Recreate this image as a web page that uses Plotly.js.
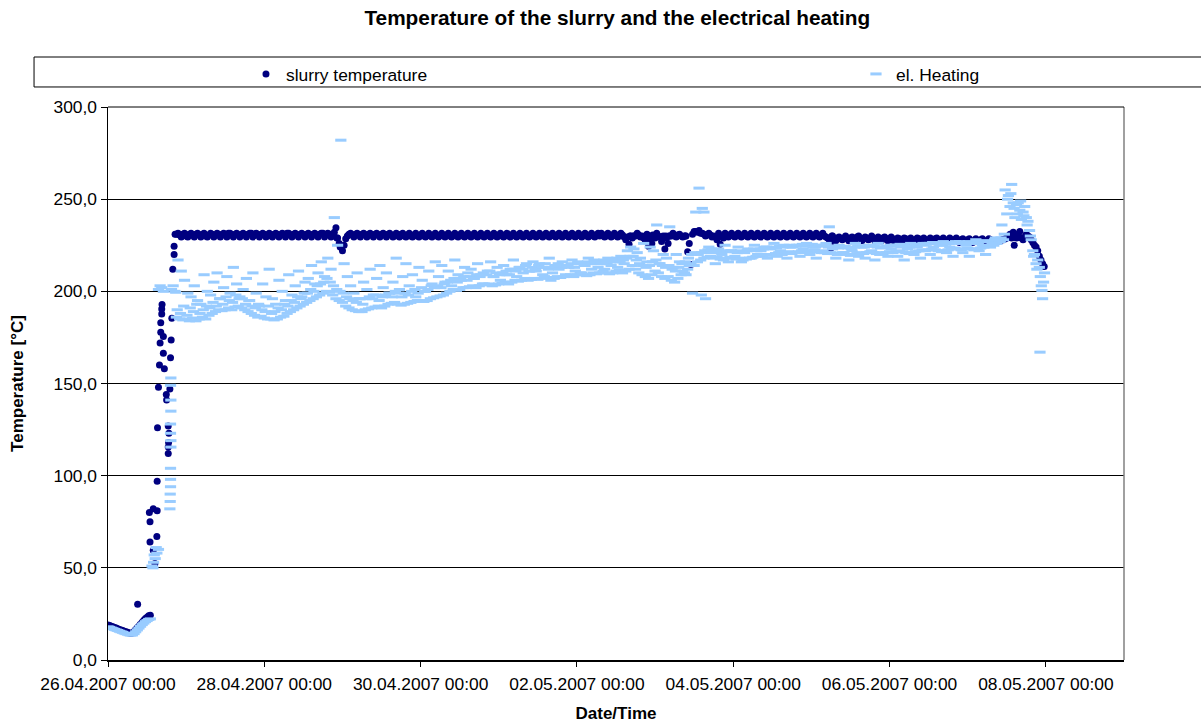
<!DOCTYPE html>
<html>
<head>
<meta charset="utf-8">
<script src="https://cdn.plot.ly/plotly-3.0.1.min.js"></script>
<style>html,body{margin:0;padding:0;background:#fff;}#chart{width:1201px;height:723px;}</style>
</head>
<body>
<div id="chart"></div>
<script>
// Start time of the measurement: 26.04.2007 00:00, times below are in hours after it
const START = Date.UTC(2007, 3, 26, 0, 0, 0);

// ---- slurry temperature ----
// start phase (hours, °C)
const slurryStartH = [0,0.5,1,1.5,2,2.5,3,3.5,4,4.5,5,5.5,6,6.5,7,7.5,8,8.5,9,9.5,10,10.5,11,11.5,12,12.5,13,9.1];
const slurryStartT = [19,18.7,18.3,18,17.6,17.3,17,16.6,16.3,16,15.6,15.3,15,14.7,14.5,14.6,15.5,16.5,17.5,18.5,19.5,20.5,21.5,22.5,23.2,24,24.3,30.3];
// heating up phase
const slurryRiseH = [14.4,13.9,12.9,15,12.9,12.7,13.9,15.1,15.1,15.2,18.5,18.5,18.6,18.7,18.5,15.5,19,18,17.9,17.3,15.8,19.2,17,16,19.4,17,16.2,16.2,19.6,16.5,16.5,16.6,19.9,20.3,20.3,20.6];
const slurryRiseT = [52.3,59.6,64,67,75,80,82,81,97,126,112,115.5,118,123,127,148,147,141,144,158,160,164,166.4,172,173.6,175.5,177.8,183,185.4,187.7,190.4,192.8,212,220,224.4,231];
// readings on the full hour from 21 h to 285 h
const slurryPlateauFirstH = 21;
const slurryPlateauT = [
231,230.5,231,230,231,230.5,231,230.5,231,230,
230.5,231,230.5,231,230.5,231,231.5,230.5,231,230.5,
231,230.5,231,231.5,230.5,231,230.5,231,230,231,
230.5,231,230.5,231,231.5,230.5,231,230.5,231,230.5,
231,230.5,231,230.5,231,231.5,230.5,231,231,234.5,
226,222,228.5,231,230.5,231,230.5,231,230.5,231,
230.5,231,230.5,231,230.5,231,230.5,230,231,230.5,
230,230.5,230,230.5,230,230.5,230,230.5,230,230.5,
230,230.5,230,230.5,230,230.5,230,230.5,230,230.5,
230,230.5,230,230.5,230,230.5,230,230.5,230,230.5,
230,230.5,230,230.5,230,230.5,230,230.5,230,230.5,
230,230.5,230,230.5,230,230.5,230,230.5,230,230.5,
230,230.5,230,230.5,230,230.5,230,230.5,230,230.5,
230,230.5,230,230.5,230,230.5,230,230.5,228,225.5,
229,230,230.5,230,227.5,224.5,226,229,230,227,
223,226,230,230,230.5,230,230,221.5,214.5,232.5,
232,231.5,231,230.5,230.5,230,228,225.5,229,230.5,
230.5,230,230.5,230,230.5,230,230.5,230,230.5,230,
230.5,230,230.5,230,230.5,230,230.5,230,230.5,230,
230.5,230,230.5,230,230.5,230,230.5,230,230.5,230,
229,223.5,227,229,228.5,229,228.5,229,228.5,229.5,
229,228.5,229,228.5,229,228,228.5,229,228.5,228,
228.5,228,228.5,228,228.5,228,227.5,228,228.5,228,
228,227.5,228,228.5,227.5,228,227.5,228,227.5,228,
227.5,228,227.5,228,227.5,227,227.5,228,227.5,227.5,
228,227.5,227,227.5,228,229,231,232,229,232.5,
228,231,229.5,226.5,224];
// readings on the half hour from 21.5 h to 284.5 h
const slurryHalfFirstH = 21.5;
const slurryHalfT = [
231.5,229.5,231.5,229.5,231.5,229.5,231.5,229.5,231.5,229.5,
231.5,229.5,231.5,229.5,231.5,229.5,231.5,229.5,231.5,229.5,
231.5,229.5,231.5,229.5,231.5,229.5,231.5,229.5,231.5,229.5,
231.5,229.5,231.5,229.5,231.5,229.5,231.5,229.5,231.5,229.5,
231.5,229.5,231.5,229.5,231.5,229.5,231.5,229.5,232,229,
224,225,230,231.5,229.5,231.5,229.5,231.5,229.5,231.5,
229.5,231.5,229.5,231.5,229.5,231.5,229.5,231.5,229.5,231.5,
229.5,231.5,229.5,231.5,229.5,231.5,229.5,231.5,229.5,231.5,
229.5,231.5,229.5,231.5,229.5,231.5,229.5,231.5,229.5,231.5,
229.5,231.5,229.5,231.5,229.5,231.5,229.5,231.5,229.5,231.5,
229.5,231.5,229.5,231.5,229.5,231.5,229.5,231.5,229.5,231.5,
229.5,231.5,229.5,231.5,229.5,231.5,229.5,231.5,229.5,231.5,
229.5,231.5,229.5,231.5,229.5,231.5,229.5,231.5,229.5,231.5,
231.5,229.5,231.5,229.5,231.5,229.5,231.5,229.5,229.5,230,
230,231.5,229.5,229,231,227,230,231.5,229.5,230,
229,230,231.5,229.5,231,229.5,230,226,231,232.5,
233,231.5,230,231.5,229.5,229.5,231.5,229.5,231.5,229.5,
231.5,229.5,231.5,229.5,231.5,229.5,231.5,229.5,231.5,229.5,
231.5,229.5,231.5,229.5,231.5,229.5,231.5,229.5,231.5,229.5,
231.5,229.5,231.5,229.5,231.5,229.5,231.5,229.5,231.5,229.5,
228,230,227.5,229.5,228,230,227.5,229.5,228,230,
227.5,229.5,228,230,227.5,229.5,227.5,229.5,227.5,229.5,
227,229,227.5,229,227,229,227.5,229,227,229,
227,229,227,229,227.5,229,227,229,227.5,229,
226.5,228.5,227,228.5,226.5,228.5,227,228.5,226.5,228.5,
227.5,227,227.5,228,228.5,230,229,230,231,229,
229.5,230,228,225];
// additional readings in the disturbed phases and final cooling
const slurryExtraH = [70.3,71.3,160.3,161.3,165.3,166.3,167.3,171.3,172.3,177.3,187.3,222.3,278.3,279.3,285.5,286,286.5,287,287.5];
const slurryExtraT = [229,224,230,230,230,230,230.5,230,230,230,230,230,225,230,222,219,217,215,213.5];

// ---- el. heating ----
const heatStartH = [0,0.5,1,1.5,2,2.5,3,3.5,4,4.5,5,5.5,6,6.5,7,7.5,8,8.5,9,9.5,10,10.5,11,11.5,12,12.5,13];
const heatStartT = [18,17.7,17.3,17,16.6,16.3,16,15.6,15.3,15,14.6,14.3,14,13.7,13.5,13.6,14.3,15.3,16.3,17.3,18.3,19.2,20,20.8,21.4,22,22.3];
const heatRiseH = [13.5,14,14.5,14.2,15,15.5,14.8,13.8,19,19.1,19.1,19.2,19.2,19.2,19.3,19.3,19.2,19.2,19.3,19.3,19.2,19.3,15.5,16,16.5,17,19.5,20,20.5,20.8];
const heatRiseT = [51,53,55,57,58,60,61,50,82,86,90,94,98,104,115.5,119,123,128,135,141,149,153,201,203,202,200,201,203,200,199.5];
// lower edge of the heating readings, every hour from 21 h to 285 h
const heatLowFirstH = 21;
const heatLowT = [
186,185,184.5,185,184,185.5,184,185,186,185,
187,188,189,190,189.5,190,191,190,191.5,192,
191,190,189,188,187,186,186.5,185.5,185,185,
184.5,185,186,186.5,188,189,190,191,192,193,
194,195,196,197,198,199,200,199.5,198,196,
195,194,192,191,190,189.5,189,189,190,190.5,
191,191.5,192,191,192,193,193.5,194,193,192.5,
193,193.5,194,194.5,195,195,194.5,195,196,196.5,
197,197.5,198,199,200,201,200.5,201,202,202,
202.5,203,202,203,204,203.5,204,203,203.5,204,
204.5,205,204,205,206,205.5,206,207,206,206.5,
207,206.5,207,208,207.5,206,207,208,207.5,208,
208.5,209,208,209,210,209,208.5,209,210,209.5,
210,211,210,209.5,210,211,211.5,210,211,212,
214,212,210,209,208,207,209,211,210,208,
207,208,206,205,207,209,210,212,215,214,
216,217,218,218.5,219,218,218.5,217.5,217,218,
218.5,218,217.5,218,217,217.5,218,218.5,219,219,
219.5,220,219.5,220,220.5,221,220,221,221.5,220.5,
221,221.5,222,221,221.5,222,222.5,221.5,221,221,
220.5,221,220.5,220,220.5,221,220,219.5,220,220.5,
221,220.5,221,221.5,221,220.5,220,220.5,221,221.5,
221,221.5,222,221.5,221,220.5,221,221.5,222,222.5,
222,222.5,223,222.5,222,221.5,222,222.5,223,223.5,
223,222.5,223,223.5,223,222.5,223,223.5,224,224.5,
224,225,226,227,228,242,246,248,247,244,
243,240,233,222,215];
// middle of the heating readings, every hour from 21.25 h to 285.25 h
const heatMidFirstH = 21.25;
const heatMidT = [
190,188,192,187,191,189,193,188,190,192,
191,194,192,196,193,197,195,194,198,196,
196,193,195,192,191,193,190,189,192,188,
189,191,190,193,192,195,194,197,196,199,
199,201,200,203,204,205,207,205,203,201,
200,199,197,196,195,194,196,193,196,197,
196,198,195,197,198,199,197,200,199,197,
199,198,200,201,199,202,200,201,203,202,
203,202,204,205,206,207,205,207,208,206,
208,207,209,208,210,209,211,208,210,209,
210,211,209,212,211,213,212,214,211,213,
212,214,213,215,212,213,214,215,213,214,
214,215,213,216,215,214,216,215,217,215,
216,217,215,216,217,218,216,217,218,219,
219,217,215,214,213,214,216,217,215,214,
213,214,212,211,213,215,216,218,220,221,
220,221,222,222.5,223,222,221.5,221,222,221.5,
222,221.5,221,222,221.5,222,222.5,223,222,223,
223,224,223.5,224,223.5,224.5,224,224.5,225,224,
224.5,225,225.5,224.5,225,225.5,224,225,224.5,225,
224,224.5,224,223.5,224,224.5,223.5,223,224,224.5,
224.5,224,224.5,225,224.5,224,223.5,224,224.5,225,
224.5,225,225.5,225,224.5,224,224.5,225,225.5,226,
225.5,226,226.5,226,225.5,225,225.5,226,226.5,227,
226.5,226,226.5,227,226.5,226,226.5,227,227.5,227,
227,228,227.5,229,231,250,253,245,242,249,
241,236,230,219,212];
// scattered upper readings, every hour from 21.5 h to 284.5 h
const heatHighFirstH = 21.5;
const heatHighT = [
217,211,206,199,197,203,195,193,209,200,
198,205,210,196,202,208,199,213,204,197,
201,207,195,210,199,192,204,197,212,196,
193,206,200,195,209,198,203,211,197,205,
207,214,204,210,216,208,218,212,240,225,
282,215,208,203,199,210,196,205,201,212,
198,207,214,202,210,199,205,218,201,208,
215,203,209,197,213,206,200,211,204,216,
208,214,205,211,203,217,209,206,213,210,
212,207,215,209,204,211,216,208,213,206,
214,209,212,217,208,213,210,215,211,216,
211,215,209,213,218,210,214,212,216,209,
213,217,211,215,210,214,218,212,216,213,
215,212,218,214,216,213,219,215,222,224,
223,221,218,226,216,224,222,236,215,220,
218,235,213,220,216,211,209,214,199,243,
256,245,196,224,221,215,223,220,225,216,
222,219,224,216,221,223,218,225,220,222,
224,218,223,226,219,222,225,218,224,221,
225,219,223,226,220,224,218,225,222,226,
235,223,218,225,221,224,217,222,226,219,
224,218,225,222,217,226,221,224,219,223,
225,219,224,217,223,226,220,224,218,225,
226,220,224,218,225,227,221,224,219,226,
227,221,225,219,226,228,222,225,220,227,
226,229,228,236,255,252,258,240,248,239,
246,238,228,220];
// final phase and single outliers
const heatEndH = [285.5,286,286.3,286.6,286.8,287,286.2,287.3,287.6,182.2,183];
const heatEndT = [217,213,208,203,200.5,196,167,205,210,198,243];

// axis ticks
const tickHours = [0,48,96,144,192,240,288];
const tickLabels = ['26.04.2007 00:00','28.04.2007 00:00','30.04.2007 00:00','02.05.2007 00:00','04.05.2007 00:00','06.05.2007 00:00','08.05.2007 00:00'];
const axisEndHours = 312;

function p2(n){return (n<10?'0':'')+n;}
function toDate(h){
  const d = new Date(START + Math.round(h*3600000));
  return d.getUTCFullYear()+'-'+p2(d.getUTCMonth()+1)+'-'+p2(d.getUTCDate())+' '+p2(d.getUTCHours())+':'+p2(d.getUTCMinutes())+':'+p2(d.getUTCSeconds());
}
function hoursFrom(first, n){const a=[];for(let i=0;i<n;i++)a.push(first+i);return a;}

const sH = slurryStartH.concat(slurryRiseH,
  hoursFrom(slurryPlateauFirstH, slurryPlateauT.length),
  hoursFrom(slurryHalfFirstH, slurryHalfT.length), slurryExtraH);
const sT = slurryStartT.concat(slurryRiseT, slurryPlateauT, slurryHalfT, slurryExtraT);
const hH = heatStartH.concat(heatRiseH,
  hoursFrom(heatLowFirstH, heatLowT.length),
  hoursFrom(heatMidFirstH, heatMidT.length),
  hoursFrom(heatHighFirstH, heatHighT.length), heatEndH);
const hT = heatStartT.concat(heatRiseT, heatLowT, heatMidT, heatHighT, heatEndT);

const font = '"Liberation Sans", Arial, sans-serif';
const tickSize = 17.4;

const traces = [
  {
    type:'scatter', mode:'markers', name:'slurry temperature', legend:'legend',
    x: sH.map(toDate), y: sT,
    marker:{symbol:'circle', size:7, color:'#000080', line:{width:0}}
  },
  {
    type:'scatter', mode:'markers', name:'el. Heating', legend:'legend2',
    x: hH.map(toDate), y: hT,
    marker:{symbol:'line-ew', size:8, color:'#99CCFF', line:{width:3, color:'#99CCFF'}}
  }
];

const legendBase = {orientation:'h', xanchor:'left', y:1.092, yanchor:'top',
  bgcolor:'rgba(0,0,0,0)', borderwidth:0, font:{family:font, size:tickSize, color:'#000'},
  itemsizing:'trace', itemclick:false};

const layout = {
  width:1201, height:723,
  paper_bgcolor:'#fff', plot_bgcolor:'#fff',
  margin:{l:108, r:77, t:107, b:63},
  separators:',.',
  font:{family:font, size:tickSize, color:'#000'},
  showlegend:true,
  title:{text:'<b>Temperature of the slurry and the electrical heating</b>', font:{family:font, size:20.8, color:'#000'},
         x:0.514, xref:'container', xanchor:'center', y:0.975, yref:'container', yanchor:'middle'},
  legend:Object.assign({}, legendBase, {x:0.1358}),
  legend2:Object.assign({}, legendBase, {x:0.7362}),
  xaxis:{
    type:'date', range:[toDate(0), toDate(axisEndHours)],
    tickvals: tickHours.map(toDate), ticktext: tickLabels,
    ticks:'outside', ticklen:5, tickcolor:'#000', tickwidth:1, ticklabelstandoff:3,
    showline:true, linecolor:'#000', linewidth:1.5, showgrid:false, zeroline:false,
    tickfont:{family:font, size:tickSize, color:'#000'},
    title:{text:'<b>Date/Time</b>', font:{family:font, size:17, color:'#000'}, standoff:14},
    fixedrange:true
  },
  yaxis:{
    range:[0,300], dtick:50, tick0:0, tickformat:'.1f',
    ticks:'outside', ticklen:6, tickcolor:'#000', tickwidth:1,
    showline:true, linecolor:'#000', linewidth:1.5,
    showgrid:true, gridcolor:'#000', gridwidth:1, zeroline:false,
    tickfont:{family:font, size:tickSize, color:'#000'},
    title:{text:'<b>Temperature [°C]</b>', font:{family:font, size:17, color:'#000'}, standoff:25},
    fixedrange:true
  },
  shapes:[
    {type:'line', xref:'paper', yref:'paper', x0:1, x1:1, y0:0, y1:1, line:{color:'#808080', width:1.5}},
    {type:'line', xref:'paper', yref:'paper', x0:0, x1:1, y0:1, y1:1, line:{color:'#000', width:1}},
    {type:'rect', xref:'paper', yref:'paper', x0:-0.0728, x1:1.09, y0:1.0362, y1:1.0904, line:{color:'#000', width:1}, fillcolor:'rgba(0,0,0,0)', layer:'below'}
  ]
};

Plotly.newPlot('chart', traces, layout, {displayModeBar:false, staticPlot:true});
</script>
</body>
</html>
